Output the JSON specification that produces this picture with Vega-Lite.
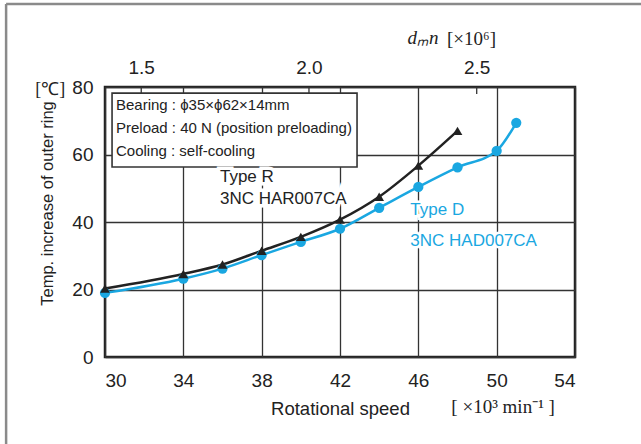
{
  "$schema": "https://vega.github.io/schema/vega-lite/v6.json",
  "width": 470,
  "height": 270,
  "autosize": {"type": "none"},
  "padding": {"left": 105, "top": 87, "right": 66, "bottom": 87},
  "background": "white",
  "config": {
    "view": {"stroke": "#222", "strokeWidth": 2.5},
    "font": "Liberation Sans",
    "axis": {
      "labelFont": "Liberation Sans",
      "labelFontSize": 19,
      "labelColor": "#222",
      "titleFont": "Liberation Sans",
      "titleFontSize": 18,
      "titleFontWeight": "normal",
      "titleColor": "#222",
      "domain": false,
      "ticks": false,
      "gridColor": "#333",
      "gridWidth": 1.3,
      "gridOpacity": 1
    },
    "text": {"font": "Liberation Sans", "color": "#222"}
  },
  "datasets": {
    "series": [
      {"rpm": 30, "temp": 20.3, "type": "R"},
      {"rpm": 34, "temp": 24.6, "type": "R"},
      {"rpm": 36, "temp": 27.4, "type": "R"},
      {"rpm": 38, "temp": 31.5, "type": "R"},
      {"rpm": 40, "temp": 35.6, "type": "R"},
      {"rpm": 42, "temp": 40.7, "type": "R"},
      {"rpm": 44, "temp": 47.5, "type": "R"},
      {"rpm": 46, "temp": 56.7, "type": "R"},
      {"rpm": 48, "temp": 67.0, "type": "R"},
      {"rpm": 30, "temp": 19.0, "type": "D"},
      {"rpm": 34, "temp": 23.2, "type": "D"},
      {"rpm": 36, "temp": 26.2, "type": "D"},
      {"rpm": 38, "temp": 30.2, "type": "D"},
      {"rpm": 40, "temp": 34.1, "type": "D"},
      {"rpm": 42, "temp": 38.0, "type": "D"},
      {"rpm": 44, "temp": 44.2, "type": "D"},
      {"rpm": 46, "temp": 50.4, "type": "D"},
      {"rpm": 48, "temp": 56.2, "type": "D"},
      {"rpm": 50, "temp": 61.1, "type": "D"},
      {"rpm": 51, "temp": 69.4, "type": "D"}
    ]
  },
  "resolve": {"scale": {"x": "independent"}, "axis": {"x": "independent"}},
  "layer": [
    {
      "layer": [
        {
          "data": {"name": "series"},
          "mark": {"type": "line", "interpolate": "monotone", "strokeWidth": 2.5},
          "encoding": {
            "x": {
              "field": "rpm", "type": "quantitative",
              "scale": {"domain": [30, 54], "nice": false, "zero": false},
              "axis": {
                "values": [30, 34, 38, 42, 46, 50, 54], "grid": true, "labelFlush": true,
                "labelPadding": 14, "title": "Rotational speed", "titleX": 235, "titleY": 57,
                "titleBaseline": "alphabetic", "titleFontSize": 18.5
              }
            },
            "y": {
              "field": "temp", "type": "quantitative",
              "scale": {"domain": [0, 80], "nice": false},
              "axis": {
                "values": [0, 20, 40, 60, 80], "grid": true, "labelPadding": 12,
                "title": "Temp. increase of outer ring", "titleX": -58, "titleY": 116,
                "titleBaseline": "middle", "titleFontSize": 16.5
              }
            },
            "color": {"field": "type", "type": "nominal", "scale": {"domain": ["R", "D"], "range": ["#222222", "#1AA7E1"]}, "legend": null}
          }
        },
        {
          "data": {"values": [{}]},
          "mark": {"type": "rule", "color": "#8a8a8a", "strokeWidth": 2.5},
          "encoding": {
            "x": {"datum": 24.95, "type": "quantitative", "scale": {"domain": [30, 54], "nice": false, "zero": false}},
            "y": {"datum": 104.6, "type": "quantitative", "scale": {"domain": [0, 80], "nice": false}},
            "y2": {"datum": -26}
          }
        },
        {
          "data": {"values": [{}]},
          "mark": {"type": "rule", "color": "#8a8a8a", "strokeWidth": 2.5},
          "encoding": {
            "x": {"datum": 24.95, "type": "quantitative", "scale": {"domain": [30, 54], "nice": false, "zero": false}},
            "x2": {"datum": 57.4},
            "y": {"datum": 104.6, "type": "quantitative", "scale": {"domain": [0, 80], "nice": false}}
          }
        },
        {
          "data": {"values": [{}]},
          "mark": {"type": "rect", "fill": "white", "stroke": "#333", "strokeWidth": 1.6},
          "encoding": {
            "x": {"datum": 30.36, "type": "quantitative", "scale": {"domain": [30, 54], "nice": false, "zero": false}},
            "x2": {"datum": 42.87},
            "y": {"datum": 78.2, "type": "quantitative", "scale": {"domain": [0, 80], "nice": false}},
            "y2": {"datum": 56.3}
          }
        },
        {
          "data": {"values": [{}]},
          "mark": {
            "type": "text", "align": "left", "baseline": "middle", "fontSize": 15, "lineHeight": 23,
            "text": ["Bearing : ϕ35×ϕ62×14mm", "Preload : 40 N (position preloading)", "Cooling : self-cooling"]
          },
          "encoding": {
            "x": {"datum": 30.56, "type": "quantitative", "scale": {"domain": [30, 54], "nice": false, "zero": false}},
            "y": {"datum": 74.67, "type": "quantitative", "scale": {"domain": [0, 80], "nice": false}}
          }
        },
        {
          "data": {"values": [{}]},
          "mark": {
            "type": "text", "align": "left", "baseline": "middle", "fontSize": 17, "lineHeight": 22,
            "fill": "white", "stroke": "white", "strokeWidth": 7,
            "text": ["Type R", "3NC HAR007CA"]
          },
          "encoding": {
            "x": {"datum": 35.87, "type": "quantitative", "scale": {"domain": [30, 54], "nice": false, "zero": false}},
            "y": {"datum": 53.19, "type": "quantitative", "scale": {"domain": [0, 80], "nice": false}}
          }
        },
        {
          "data": {"values": [{}]},
          "mark": {
            "type": "text", "align": "left", "baseline": "middle", "fontSize": 17, "lineHeight": 22,
            "color": "#222",
            "text": ["Type R", "3NC HAR007CA"]
          },
          "encoding": {
            "x": {"datum": 35.87, "type": "quantitative", "scale": {"domain": [30, 54], "nice": false, "zero": false}},
            "y": {"datum": 53.19, "type": "quantitative", "scale": {"domain": [0, 80], "nice": false}}
          }
        },
        {
          "data": {"values": [{}]},
          "mark": {
            "type": "text", "align": "left", "baseline": "middle", "fontSize": 17, "lineHeight": 31,
            "fill": "white", "stroke": "white", "strokeWidth": 5,
            "text": ["Type D", "3NC HAD007CA"]
          },
          "encoding": {
            "x": {"datum": 45.59, "type": "quantitative", "scale": {"domain": [30, 54], "nice": false, "zero": false}},
            "y": {"datum": 43.41, "type": "quantitative", "scale": {"domain": [0, 80], "nice": false}}
          }
        },
        {
          "data": {"values": [{}]},
          "mark": {
            "type": "text", "align": "left", "baseline": "middle", "fontSize": 17, "lineHeight": 31,
            "color": "#1AA7E1",
            "text": ["Type D", "3NC HAD007CA"]
          },
          "encoding": {
            "x": {"datum": 45.59, "type": "quantitative", "scale": {"domain": [30, 54], "nice": false, "zero": false}},
            "y": {"datum": 43.41, "type": "quantitative", "scale": {"domain": [0, 80], "nice": false}}
          }
        },
        {
          "data": {"values": [{}]},
          "mark": {"type": "text", "align": "center", "baseline": "middle", "fontSize": 18, "font": "Liberation Serif", "text": "[℃]"},
          "encoding": {
            "x": {"datum": 27.2, "type": "quantitative", "scale": {"domain": [30, 54], "nice": false, "zero": false}},
            "y": {"datum": 79.1, "type": "quantitative", "scale": {"domain": [0, 80], "nice": false}}
          }
        },
        {
          "data": {"values": [{}]},
          "mark": {"type": "text", "align": "center", "baseline": "middle", "fontSize": 19, "font": "Liberation Serif", "text": "[ ×10³ min⁻¹ ]"},
          "encoding": {
            "x": {"datum": 50.33, "type": "quantitative", "scale": {"domain": [30, 54], "nice": false, "zero": false}},
            "y": {"datum": -14.8, "type": "quantitative", "scale": {"domain": [0, 80], "nice": false}}
          }
        },
        {
          "data": {"values": [{}]},
          "mark": {"type": "text", "align": "center", "baseline": "middle", "fontSize": 19, "font": "Liberation Serif", "fontStyle": "italic", "text": "dₘn"},
          "encoding": {
            "x": {"datum": 46.24, "type": "quantitative", "scale": {"domain": [30, 54], "nice": false, "zero": false}},
            "y": {"datum": 94.5, "type": "quantitative", "scale": {"domain": [0, 80], "nice": false}}
          }
        },
        {
          "data": {"name": "series"},
          "transform": [{"filter": "datum.type === 'D'"}],
          "mark": {"type": "point", "shape": "circle", "filled": true, "opacity": 1, "size": 105, "color": "#1AA7E1"},
          "encoding": {
            "x": {"field": "rpm", "type": "quantitative", "scale": {"domain": [30, 54], "nice": false, "zero": false}},
            "y": {"field": "temp", "type": "quantitative", "scale": {"domain": [0, 80], "nice": false}}
          }
        },
        {
          "data": {"name": "series"},
          "transform": [{"filter": "datum.type === 'R'"}],
          "mark": {"type": "point", "shape": "triangle-up", "filled": true, "opacity": 1, "size": 95, "color": "#222222"},
          "encoding": {
            "x": {"field": "rpm", "type": "quantitative", "scale": {"domain": [30, 54], "nice": false, "zero": false}},
            "y": {"field": "temp", "type": "quantitative", "scale": {"domain": [0, 80], "nice": false}}
          }
        }
      ]
    },
    {
      "data": {"values": [{"d": 1.5}, {"d": 2.0}, {"d": 2.5}]},
      "mark": {"type": "rule", "color": "#333", "strokeWidth": 1.3},
      "encoding": {
        "x": {
          "field": "d", "type": "quantitative",
          "scale": {"domain": [1.392, 2.793], "nice": false, "zero": false},
          "axis": {
            "orient": "top", "values": [1.5, 2.0, 2.5], "format": ".1f", "grid": false,
            "ticks": false, "labelPadding": 10, "title": "[×10⁶]", "titleFont": "Liberation Serif",
            "titleFontSize": 19, "titleX": 366, "titleY": -49, "titleBaseline": "middle"
          }
        },
        "y": {"datum": 80, "type": "quantitative", "scale": {"domain": [0, 80], "nice": false}},
        "y2": {"datum": 77.9}
      }
    }
  ]
}
